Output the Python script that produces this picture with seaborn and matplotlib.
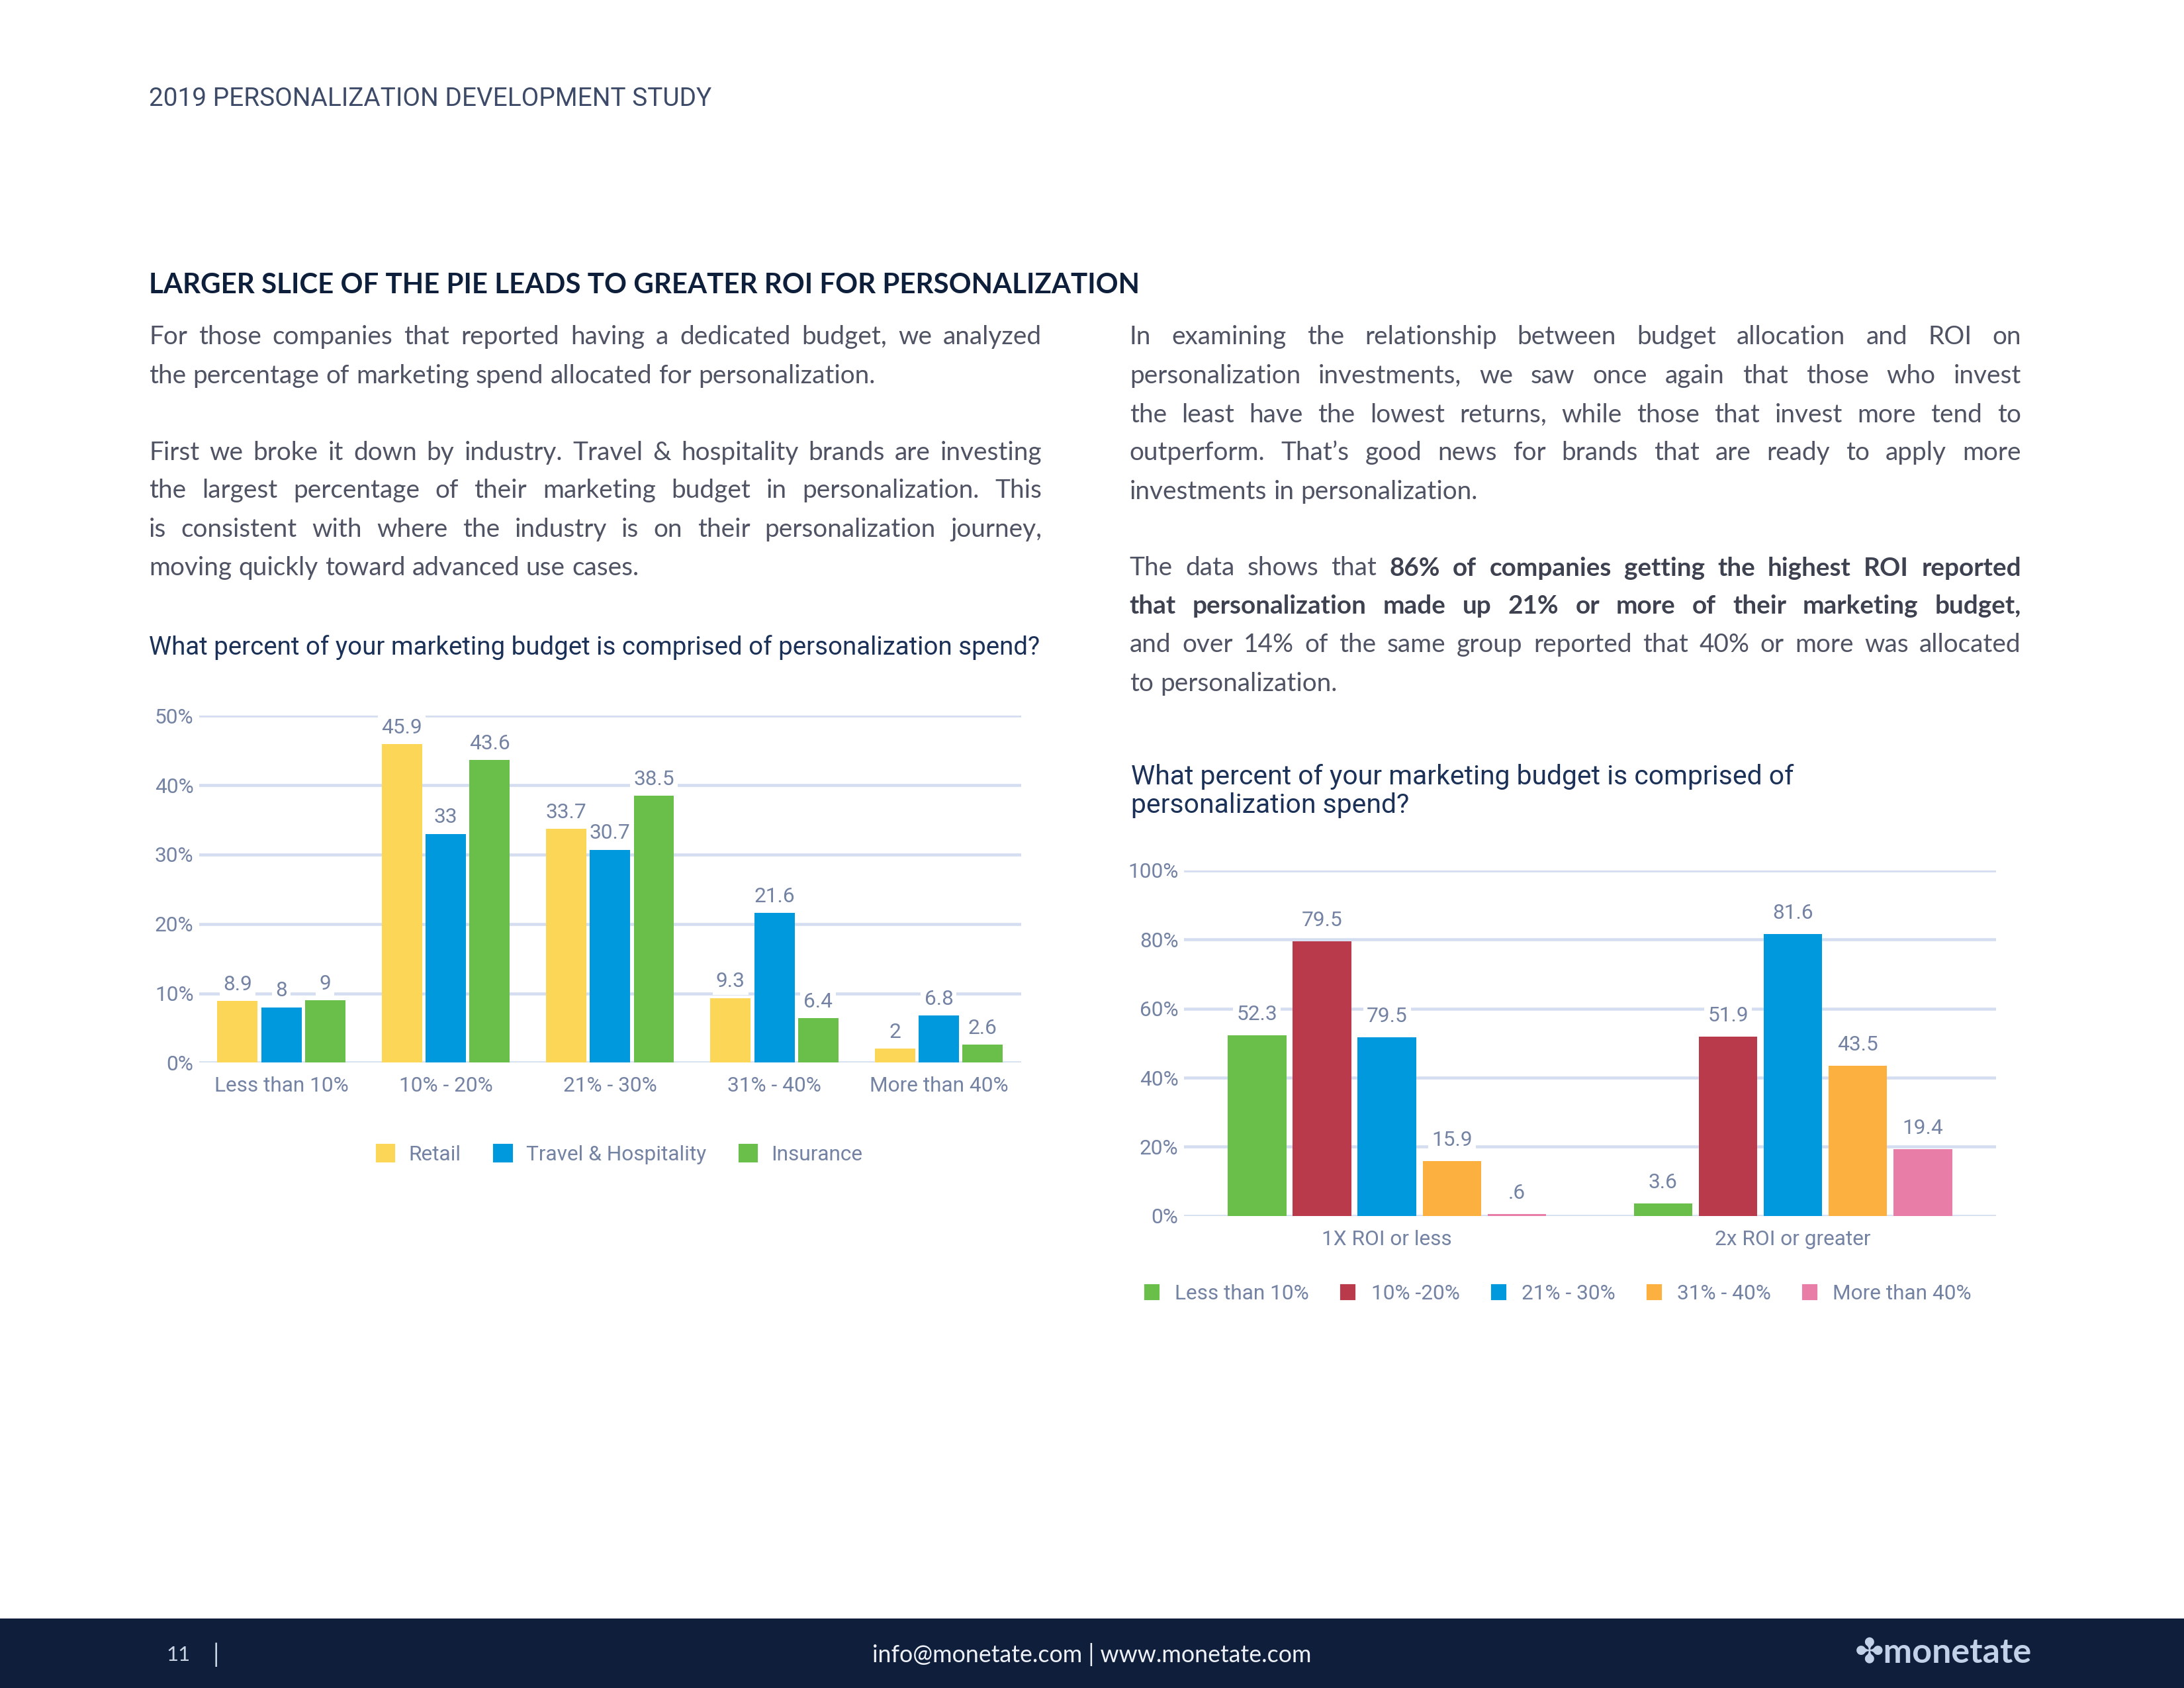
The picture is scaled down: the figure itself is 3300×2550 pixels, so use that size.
import matplotlib
matplotlib.use("Agg")
import pandas as pd
import seaborn as sns
import matplotlib.pyplot as plt
from matplotlib.patches import Rectangle, Patch

# data
ranges = ["Less than 10%", "10% - 20%", "21% - 30%", "31% - 40%", "More than 40%"]
industries = ["Retail", "Travel & Hospitality", "Insurance"]
retail = [8.9, 45.9, 33.7, 9.3, 2.0]
travel = [8.0, 33.0, 30.7, 21.6, 6.8]
insurance = [9.0, 43.6, 38.5, 6.4, 2.6]

roi_groups = ["1X ROI or less", "2x ROI or greater"]
roi_levels = ["Less than 10%", "10% -20%", "21% - 30%", "31% - 40%", "More than 40%"]
roi_less = [52.3, 79.5, 51.7, 15.9, 0.6]
roi_greater = [3.6, 51.9, 81.6, 43.5, 19.4]
roi_less_labels = ["52.3", "79.5", "79.5", "15.9", ".6"]
roi_greater_labels = ["3.6", "51.9", "81.6", "43.5", "19.4"]

left_ticks = [0, 10, 20, 30, 40, 50]
right_ticks = [0, 20, 40, 60, 80, 100]

ind_colors = ["#fcd757", "#0099dd", "#6abf4b"]
roi_colors = ["#6abf4b", "#b93a4a", "#0099dd", "#fbb040", "#e87ea7"]

NAVY = "#0e1f3b"
LABEL = "#7483a3"
GRID = "#d5def0"
BODY = "#4f5363"

sns.set_style("white")
plt.rcParams["font.family"] = ["Lato", "DejaVu Sans"]
CHART_FONT = ["Roboto", "DejaVu Sans"]

fig = plt.figure(figsize=(11, 8.5), dpi=300)
W, H = 1568.0, 1212.0  # reference layout units


def fx(x):
    return x / W


def fy(y):
    return 1 - y / H


# ---------- page text ----------
fig.text(fx(107), fy(71), "2019 PERSONALIZATION DEVELOPMENT STUDY", family=CHART_FONT,
         fontsize=9.3, color="#3d4b68", va="center", ha="left")
fig.text(fx(107), fy(205), "LARGER SLICE OF THE PIE LEADS TO GREATER ROI FOR PERSONALIZATION",
         fontsize=10.1, fontweight="bold", color=NAVY, va="center", ha="left")

renderer = fig.canvas.get_renderer()


def draw_line(line, x0, x1, y, justify, size=9.3):
    # split on ** to get bold runs, then words
    tokens = []
    for i, part in enumerate(line.split("**")):
        for w in part.split():
            tokens.append((w, i % 2 == 1))
    texts, widths = [], []
    for w, bold in tokens:
        t = fig.text(0, fy(y), w, fontsize=size, color=BODY if not bold else "#3e4250",
                     fontweight="bold" if bold else "normal", va="center", ha="left")
        texts.append(t)
        widths.append(t.get_window_extent(renderer).width / fig.bbox.width)
    space = size * 0.26 / 72 / 11
    if justify and len(texts) > 1:
        gap = (fx(x1) - fx(x0) - sum(widths)) / (len(texts) - 1)
    else:
        gap = space
    x = fx(x0)
    for t, w in zip(texts, widths):
        t.set_x(x)
        x += w + gap


left_lines = [
    ("For those companies that reported having a dedicated budget, we analyzed", 242, True),
    ("the percentage of marketing spend allocated for personalization.", 270, False),
    ("First we broke it down by industry. Travel & hospitality brands are investing", 325, True),
    ("the largest percentage of their marketing budget in personalization. This", 352, True),
    ("is consistent with where the industry is on their personalization journey,", 380, True),
    ("moving quickly toward advanced use cases.", 408, False),
]
right_lines = [
    ("In examining the relationship between budget allocation and ROI on", 242, True),
    ("personalization investments, we saw once again that those who invest", 270, True),
    ("the least have the lowest returns, while those that invest more tend to", 298, True),
    ("outperform. That\u2019s good news for brands that are ready to apply more", 325, True),
    ("investments in personalization.", 353, False),
    ("The data shows that **86% of companies getting the highest ROI reported**", 408, True),
    ("**that personalization made up 21% or more of their marketing budget,**", 435, True),
    ("and over 14% of the same group reported that 40% or more was allocated", 463, True),
    ("to personalization.", 491, False),
]
for line, y, j in left_lines:
    draw_line(line, 107, 748, y, j)
for line, y, j in right_lines:
    draw_line(line, 811, 1451, y, j)

fig.text(fx(107), fy(465), "What percent of your marketing budget is comprised of personalization spend?",
         family=CHART_FONT, fontsize=9.25, color="#1c3158", va="center", ha="left")
fig.text(fx(812), fy(568), "What percent of your marketing budget is comprised of\npersonalization spend?",
         family=CHART_FONT, fontsize=9.8, color="#1c3158", va="center", ha="left", linespacing=1.15)


def style_axes(ax, ticks):
    ax.set_ylim(ticks[0], ticks[-1])
    ax.set_yticks(ticks)
    ax.set_yticklabels([f"{t}%" for t in ticks])
    ax.yaxis.grid(True, color=GRID, linewidth=1.1)
    ax.set_axisbelow(True)
    sns.despine(ax=ax, left=True, bottom=True)
    ax.tick_params(axis="both", length=0, labelcolor=LABEL, labelsize=7.6)
    ax.tick_params(axis="y", pad=2)
    ax.tick_params(axis="x", pad=5)
    for lab in ax.get_xticklabels() + ax.get_yticklabels():
        lab.set_family(CHART_FONT)
    ax.set_xlabel("")
    ax.set_ylabel("")


def add_gaps(ax, keep):
    # thin white gaps between neighbouring bars
    for p in ax.patches:
        w = p.get_width()
        p.set_x(p.get_x() + w * (1 - keep) / 2)
        p.set_width(w * keep)


# ---------- left chart ----------
left_df = pd.DataFrame({
    "range": ranges * 3,
    "industry": [i for i in industries for _ in ranges],
    "value": retail + travel + insurance,
})
ax1 = fig.add_axes([fx(143), fy(763), fx(733) - fx(143), fy(514) - fy(763)])
sns.barplot(data=left_df, x="range", y="value", hue="industry", order=ranges,
            hue_order=industries, palette=ind_colors, saturation=1, width=0.8,
            errorbar=None, linewidth=0, legend=False, ax=ax1)
add_gaps(ax1, 0.92)
style_axes(ax1, left_ticks)
for cont in ax1.containers:
    ax1.bar_label(cont, fmt="{:g}", padding=2.5, fontsize=7.6, color=LABEL, family=CHART_FONT,
                  bbox=dict(facecolor="white", edgecolor="none", pad=1.2))
ax1.legend(handles=[Patch(color=c, label=l) for c, l in zip(ind_colors, industries)],
           loc="center", bbox_to_anchor=(fx(445), fy(829)), bbox_transform=fig.transFigure,
           ncol=3, frameon=False, handlelength=0.8, handleheight=0.8, handletextpad=0.7,
           columnspacing=1.6, prop={"family": CHART_FONT, "size": 7.6}, labelcolor=LABEL)

# ---------- right chart ----------
right_df = pd.DataFrame({
    "group": roi_groups * 5,
    "level": [lv for lv in roi_levels for _ in roi_groups],
    "value": [v for pair in zip(roi_less, roi_greater) for v in pair],
})
ax2 = fig.add_axes([fx(850), fy(873), fx(1433) - fx(850), fy(625) - fy(873)])
sns.barplot(data=right_df, x="group", y="value", hue="level", order=roi_groups,
            hue_order=roi_levels, palette=roi_colors, saturation=1, width=0.8,
            errorbar=None, linewidth=0, legend=False, ax=ax2)
add_gaps(ax2, 0.9)
style_axes(ax2, right_ticks)
for cont, a, b in zip(ax2.containers, roi_less_labels, roi_greater_labels):
    ax2.bar_label(cont, labels=[a, b], padding=4, fontsize=7.6, color=LABEL, family=CHART_FONT,
                  bbox=dict(facecolor="white", edgecolor="none", pad=1.2))
ax2.legend(handles=[Patch(color=c, label=l) for c, l in zip(roi_colors, roi_levels)],
           loc="center", bbox_to_anchor=(fx(1119), fy(929)), bbox_transform=fig.transFigure,
           ncol=5, frameon=False, handlelength=0.6, handleheight=0.6, handletextpad=0.8,
           columnspacing=1.55, prop={"family": CHART_FONT, "size": 7.6}, labelcolor=LABEL)

# ---------- footer ----------
fig.patches.append(Rectangle((0, 0), 1, fy(1162), transform=fig.transFigure,
                             facecolor="#0f1e3a", edgecolor="none", zorder=0))
fig.text(fx(128), fy(1188), "11", fontsize=7.5, color="#c9d3e3", va="center", ha="center")
fig.text(fx(155), fy(1188), "|", fontsize=9, color="#c9d3e3", va="center", ha="center")
fig.text(fx(784), fy(1188), "info@monetate.com | www.monetate.com", fontsize=8.6,
         color="#eef2f8", va="center", ha="center")
fig.text(fx(1459), fy(1187), "\u2724monetate", fontsize=12.5, fontweight="bold",
         color="#c3d1e8", va="center", ha="right", family=["Lato", "DejaVu Sans"])

fig.savefig("out.png", dpi=300, facecolor="white")
